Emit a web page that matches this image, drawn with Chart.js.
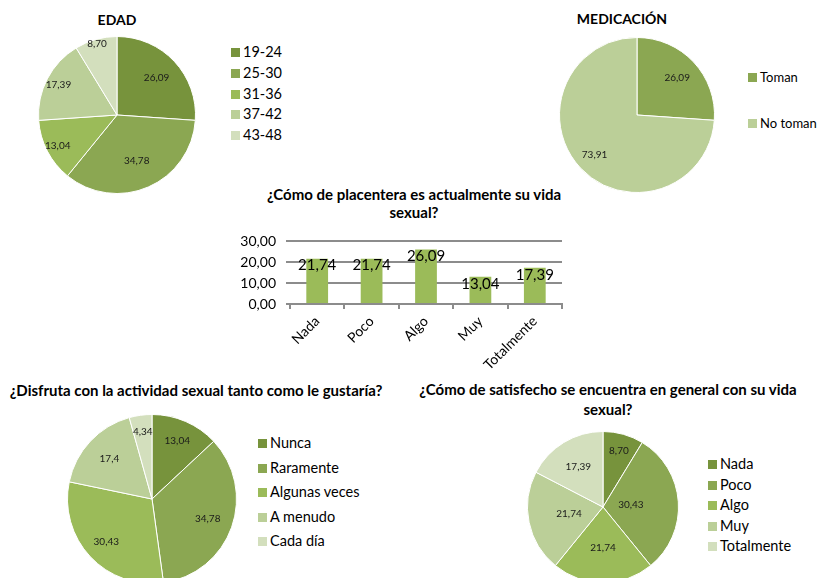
<!DOCTYPE html>
<html>
<head>
<meta charset="utf-8">
<script src="https://cdn.jsdelivr.net/npm/chart.js@4/dist/chart.umd.min.js"></script>
<style>
  html, body { margin: 0; padding: 0; background: #fff; }
  body { width: 818px; height: 578px; overflow: hidden; position: relative; font-family: Lato, "Open Sans", sans-serif; color: #000; }
  canvas { position: absolute; }
  .title { position: absolute; text-align: center; font-weight: bold; font-size: 15px; white-space: nowrap; }
  .legend { position: absolute; font-size: 14.5px; width: 200px; }
  .legend .item { position: absolute; left: 0; white-space: nowrap; height: 20px; line-height: 20px; }
  .legend .sw { position: absolute; left: 0; top: 6px; width: 9px; height: 9px; }
  .legend .tx { position: absolute; left: 12px; top: 0; }
</style>
</head>
<body>
<div class="title" style="left:57px; width:120px; top:10px; line-height:20px; font-size:14px;">EDAD</div>
<div class="title" style="left:522px; width:200px; top:9px; line-height:20px; font-size:14px;">MEDICACIÓN</div>
<div class="title" style="left:214px; width:400px; top:185px; line-height:18px;">¿Cómo de placentera es actualmente su vida<br>sexual?</div>
<div class="title" style="left:-4px; width:400px; top:380px; line-height:20px;">¿Disfruta con la actividad sexual tanto como le gustaría?</div>
<div class="title" style="left:408px; width:400px; top:379px; line-height:20px;">¿Cómo de satisfecho se encuentra en general con su vida<br>sexual?</div>

<canvas id="edad" width="158" height="158" style="left:38px; top:36px;"></canvas>
<canvas id="med" width="156" height="156" style="left:559px; top:37px;"></canvas>
<canvas id="plac" width="370" height="157" style="left:210px; top:223px;"></canvas>
<canvas id="disf" width="170" height="170" style="left:67px; top:414px;"></canvas>
<canvas id="sat" width="152" height="152" style="left:527px; top:431px;"></canvas>

<div id="lg-edad" class="legend" style="left:231px; top:42px;"></div>
<div id="lg-med" class="legend" style="left:748px; top:67px; font-size:13px;"></div>
<div id="lg-disf" class="legend" style="left:258px; top:433px;"></div>
<div id="lg-sat" class="legend" style="left:708px; top:454px;"></div>

<script>
// ---------- data ----------
const edadLabels = ['19-24', '25-30', '31-36', '37-42', '43-48'];
const edadValues = [26.09, 34.78, 13.04, 17.39, 8.70];

const medLabels = ['Toman', 'No toman'];
const medValues = [26.09, 73.91];

const placLabels = ['Nada', 'Poco', 'Algo', 'Muy', 'Totalmente'];
const placValues = [21.74, 21.74, 26.09, 13.04, 17.39];
const placTicks = [0, 10, 20, 30];

const disfLabels = ['Nunca', 'Raramente', 'Algunas veces', 'A menudo', 'Cada día'];
const disfValues = [13.04, 34.78, 30.43, 17.4, 4.34];

const satLabels = ['Nada', 'Poco', 'Algo', 'Muy', 'Totalmente'];
const satValues = [8.70, 30.43, 21.74, 21.74, 17.39];

// ---------- styles ----------
const shades5 = ['#77933C', '#8BA752', '#9BBB59', '#BBCF98', '#D3DFBD'];
const shades2 = ['#8BA752', '#BBCF98'];
const FONT = 'Lato, "Open Sans", sans-serif';

function fmt(v, decimals) {
  const s = decimals == null ? String(v) : v.toFixed(decimals);
  return s.replace('.', ',');
}

const pieLabels = {
  id: 'pieLabels',
  afterDatasetsDraw(chart, args, opts) {
    const ctx = chart.ctx;
    const meta = chart.getDatasetMeta(0);
    const values = chart.data.datasets[0].data;
    ctx.save();
    ctx.font = '10px ' + FONT;
    ctx.fillStyle = '#1a1a1a';
    ctx.textAlign = 'center';
    ctx.textBaseline = 'middle';
    meta.data.forEach((arc, i) => {
      const p = arc.getProps(['x', 'y', 'startAngle', 'endAngle', 'outerRadius'], true);
      const mid = (p.startAngle + p.endAngle) / 2;
      const r = p.outerRadius * (opts.radii ? opts.radii[i] : 0.7);
      ctx.fillText(fmt(values[i], opts.decimals), p.x + Math.cos(mid) * r, p.y + Math.sin(mid) * r);
    });
    ctx.restore();
  }
};

function makePie(id, labels, values, colors, radii, decimals) {
  return new Chart(document.getElementById(id), {
    type: 'pie',
    data: { labels: labels, datasets: [{ data: values, backgroundColor: colors, borderColor: '#ffffff', borderWidth: 1 }] },
    options: {
      responsive: false, animation: false, devicePixelRatio: 1,
      layout: { padding: 0 },
      plugins: { legend: { display: false }, tooltip: { enabled: false }, pieLabels: { radii: radii, decimals: decimals } }
    },
    plugins: [pieLabels]
  });
}

function makeLegend(id, labels, colors, spacing) {
  const el = document.getElementById(id);
  labels.forEach((lab, i) => {
    const item = document.createElement('div');
    item.className = 'item';
    item.style.top = (i * spacing) + 'px';
    item.innerHTML = '<span class="sw" style="background:' + colors[i] + '"></span><span class="tx"></span>';
    item.querySelector('.tx').textContent = lab;
    el.appendChild(item);
  });
}

makePie('edad', edadLabels, edadValues, shades5, [0.69, 0.63, 0.85, 0.84, 0.94], 2);
makePie('med', medLabels, medValues, shades2, [0.71, 0.75], 2);
makePie('disf', disfLabels, disfValues, shades5, [0.75, 0.70, 0.74, 0.69, 0.80], null);
makePie('sat', satLabels, satValues, shades5, [0.78, 0.37, 0.54, 0.46, 0.63], 2);

makeLegend('lg-edad', edadLabels, shades5, 20.8);
makeLegend('lg-med', medLabels, shades2, 46);
makeLegend('lg-disf', disfLabels, shades5, 24.6);
makeLegend('lg-sat', satLabels, shades5, 20.5);

// ---------- bar chart ----------
const barLabels = {
  id: 'barLabels',
  afterDatasetsDraw(chart) {
    const ctx = chart.ctx;
    const meta = chart.getDatasetMeta(0);
    const values = chart.data.datasets[0].data;
    ctx.save();
    ctx.font = '15px ' + FONT;
    ctx.fillStyle = '#000';
    ctx.textAlign = 'center';
    ctx.textBaseline = 'middle';
    meta.data.forEach((bar, i) => {
      ctx.fillText(fmt(values[i], 2), bar.x, bar.y + 7);
    });
    ctx.restore();
  }
};

new Chart(document.getElementById('plac'), {
  type: 'bar',
  data: { labels: placLabels, datasets: [{ data: placValues, backgroundColor: '#9BBB59', barPercentage: 0.4, categoryPercentage: 1 }] },
  options: {
    responsive: false, animation: false, devicePixelRatio: 1,
    layout: { padding: { left: 10, right: 18, top: 0, bottom: 0 } },
    plugins: { legend: { display: false }, tooltip: { enabled: false } },
    scales: {
      y: {
        min: 0, max: 30,
        afterBuildTicks: s => { s.ticks = placTicks.map(v => ({ value: v })); },
        ticks: { callback: v => fmt(v, 2), font: { family: FONT, size: 14 }, color: '#000', padding: 10 },
        grid: { color: '#8c8c8c', lineWidth: 2, tickLength: 4 },
        border: { display: false },
        afterFit: s => { s.width = 70; }
      },
      x: {
        ticks: { minRotation: 45, maxRotation: 45, font: { family: FONT, size: 14 }, color: '#000', padding: 4 },
        grid: { offset: true, drawOnChartArea: false, tickLength: 5, color: '#8c8c8c', lineWidth: 2 },
        border: { color: '#8c8c8c', width: 2 },
        afterFit: s => { s.height = 76; }
      }
    }
  },
  plugins: [barLabels]
});
</script>
</body>
</html>
